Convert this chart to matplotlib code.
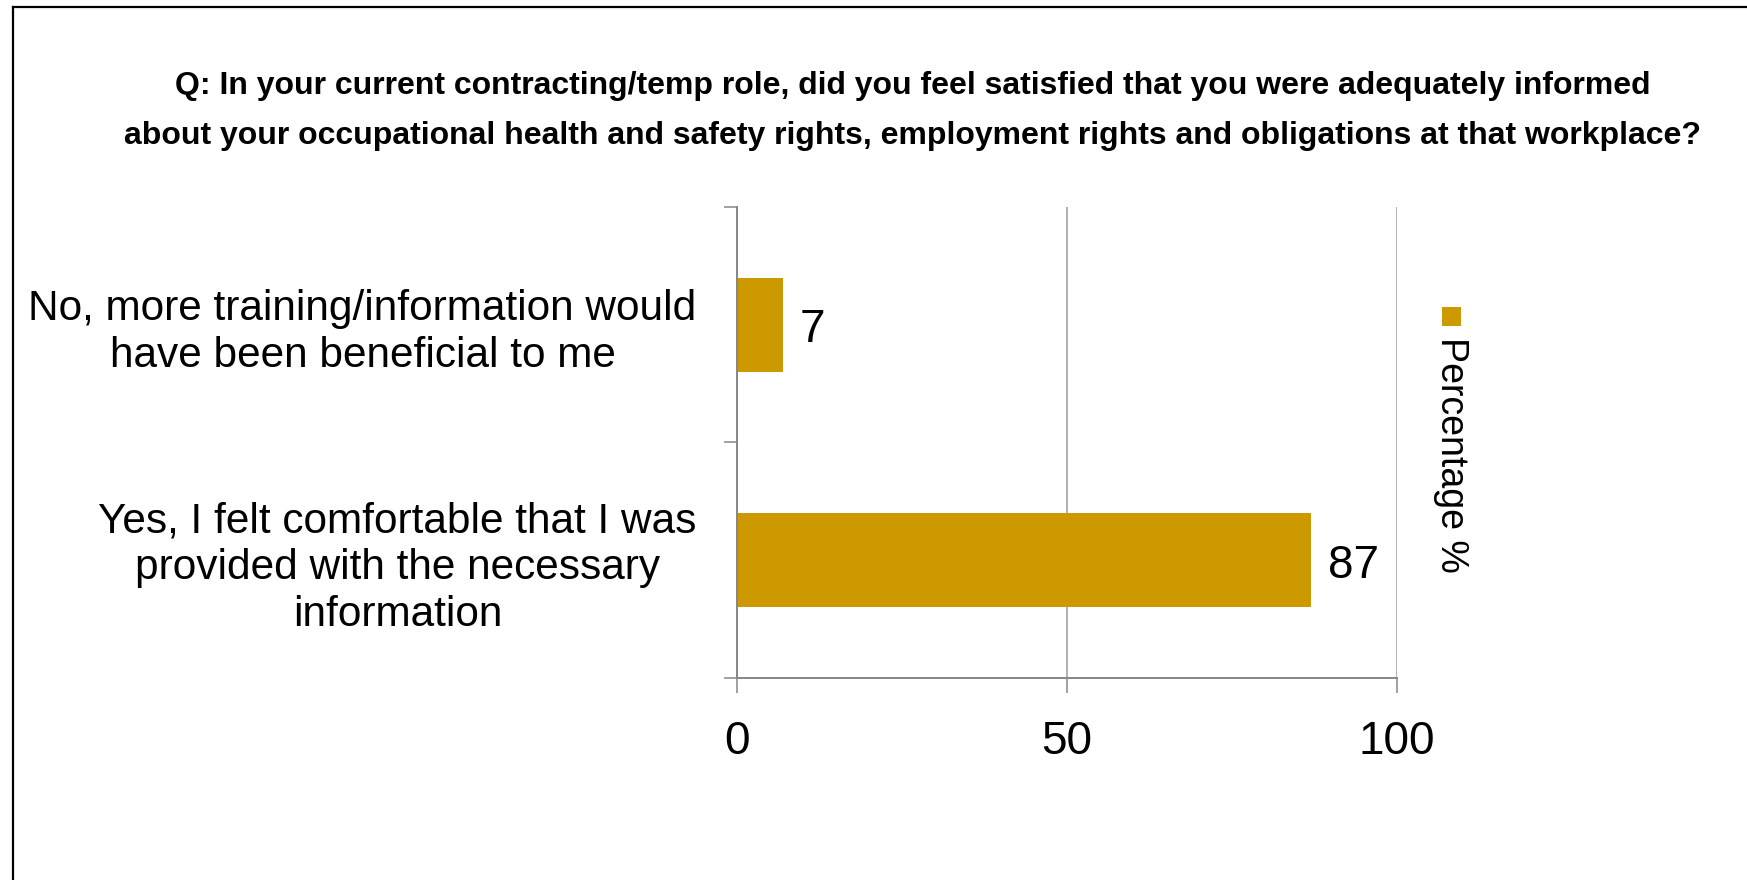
import matplotlib
matplotlib.use('Agg')
import matplotlib.pyplot as plt
from matplotlib.lines import Line2D
from matplotlib.patches import Rectangle
from matplotlib.transforms import ScaledTranslation
import numpy as np

plt.rcParams['font.family'] = ['Liberation Sans', 'DejaVu Sans']

# data
categories = ['No, more training/information would\nhave been beneficial to me',
              'Yes, I felt comfortable that I was\nprovided with the necessary\ninformation']
values = [7, 87]
xticks = [0, 50, 100]
series_name = 'Percentage %'
title_lines = ['Q: In your current contracting/temp role, did you feel satisfied that you were adequately informed',
               'about your occupational health and safety rights, employment rights and obligations at that workplace?']

BAR = '#CC9900'
AXC = '#868686'
W, H = 1747, 880

fig = plt.figure(figsize=(W / 100, H / 100), dpi=100)
ax = fig.add_axes([737 / W, 1 - 678 / H, (1397 - 737) / W, (678 - 207) / H])

y = np.arange(len(categories))
bars = ax.barh(y, values, height=0.4, color=BAR, zorder=3)
for b in bars:
    ax.annotate(f'{b.get_width():.0f}', xy=(b.get_width(), b.get_y() + b.get_height() / 2),
                xytext=(12, -4), textcoords='offset points',
                va='center', ha='left', fontsize=33, color='black')

ax.set_xlim(0, 100)
ax.set_ylim(-0.5, len(categories) - 0.5)
ax.invert_yaxis()
ax.set_xticks(xticks)
ax.set_xticklabels([str(t) for t in xticks], fontsize=33)
ax.set_yticks(y)
ax.set_yticklabels(categories, fontsize=30.5, multialignment='center', linespacing=1.22)
ax.set_yticks(np.arange(len(categories) + 1) - 0.5, minor=True)
# nudge category labels up a little
lift = ScaledTranslation(0, 2.5 / 72, fig.dpi_scale_trans)
for lab in ax.get_yticklabels():
    lab.set_transform(lab.get_transform() + lift)

ax.tick_params(axis='y', which='major', length=0, pad=29)
ax.tick_params(axis='y', which='minor', length=9.5, width=1.1, color=AXC, direction='out')
ax.tick_params(axis='x', which='major', length=11, width=1.1, color=AXC, direction='out', pad=19.5)

ax.grid(axis='x', color='#9a9a9a', lw=1.1, zorder=0)
for s in ('top', 'right'):
    ax.spines[s].set_visible(False)
for s in ('left', 'bottom'):
    ax.spines[s].set_color(AXC)
    ax.spines[s].set_linewidth(1.4)
    ax.spines[s].set_zorder(4)

# title
fig.text(913 / W, 1 - 94 / H, title_lines[0], ha='center', va='baseline', fontsize=23, fontweight='bold')
fig.text(913 / W, 1 - 144 / H, title_lines[1], ha='center', va='baseline', fontsize=23, fontweight='bold')

# rotated legend
fig.add_artist(Rectangle((1442 / W, 1 - 326 / H), 19 / W, 19 / H, transform=fig.transFigure,
                         facecolor=BAR, edgecolor='none'))
fig.text(1451 / W, 1 - 455 / H, series_name, rotation=270, ha='center', va='center', fontsize=27)

# frame around the chart
fig.add_artist(Line2D([13 / W, 13 / W], [0, 1 - 7 / H], transform=fig.transFigure, color='black', lw=1.6))
fig.add_artist(Line2D([13 / W, 1], [1 - 7 / H, 1 - 7 / H], transform=fig.transFigure, color='black', lw=1.6))

fig.savefig('out.png', dpi=100)
